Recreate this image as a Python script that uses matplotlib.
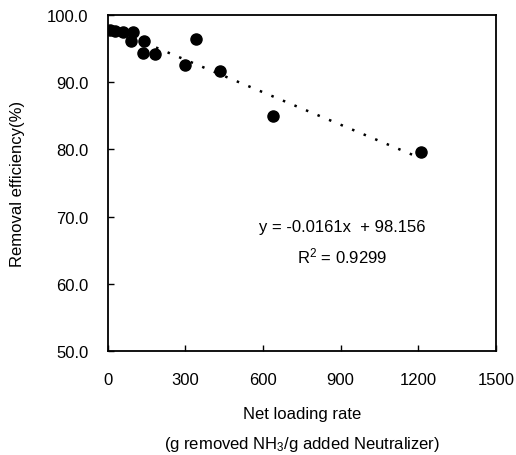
import matplotlib
matplotlib.use('Agg')
import matplotlib.pyplot as plt
import numpy as np

# data
loading = [8, 27, 59, 98, 91, 139, 137, 184, 300, 340, 434, 639, 1209]
efficiency = [97.7, 97.6, 97.4, 97.4, 96.2, 96.2, 94.4, 94.2, 92.5, 96.4, 91.6, 85.0, 79.6]
slope = -0.0161
intercept = 98.156
r2 = 0.9299
xticks = [0, 300, 600, 900, 1200, 1500]
yticks = [50, 60, 70, 80, 90, 100]

plt.rcParams['font.family'] = ['Liberation Sans', 'DejaVu Sans']
plt.rcParams['mathtext.fontset'] = 'custom'
plt.rcParams['mathtext.rm'] = 'Liberation Sans'
plt.rcParams['mathtext.it'] = 'Liberation Sans'

fs = 12

fig = plt.figure(figsize=(5.16, 4.56), dpi=100)
ax = fig.add_axes([0.209, 0.228, 0.752, 0.737])

ax.plot(loading, efficiency, 'o', color='black', markersize=8, zorder=3)
xs = np.array([min(loading), max(loading)])
ax.plot(xs, slope * xs + intercept, color='black', linewidth=1.8,
        linestyle=(0, (1, 4)), zorder=2)

ax.set_xlim(0, 1500)
ax.set_ylim(50, 100)
ax.set_xticks(xticks)
ax.set_yticks(yticks)
ax.set_yticklabels(['%.1f' % v for v in yticks])
ax.tick_params(direction='in', length=4, width=1, labelsize=fs)
ax.tick_params(axis='y', pad=14)
ax.tick_params(axis='x', pad=15)
for s in ax.spines.values():
    s.set_linewidth(1.3)

ax.text(905, 68.6, 'y = -0.0161x  + 98.156', ha='center', va='center', fontsize=fs)
ax.text(905, 64.2, 'R$^2$ = 0.9299', ha='center', va='center', fontsize=fs)

fig.text(18 / 516, 1 - 184 / 456, 'Removal efficiency(%)', rotation=90,
         ha='center', va='center', fontsize=fs)
fig.text(302 / 516, 1 - 415 / 456, 'Net loading rate', ha='center', va='center', fontsize=fs)
fig.text(302 / 516, 1 - 445 / 456, '(g removed NH$_3$/g added Neutralizer)',
         ha='center', va='center', fontsize=fs)

fig.savefig('out.png', dpi=100)
